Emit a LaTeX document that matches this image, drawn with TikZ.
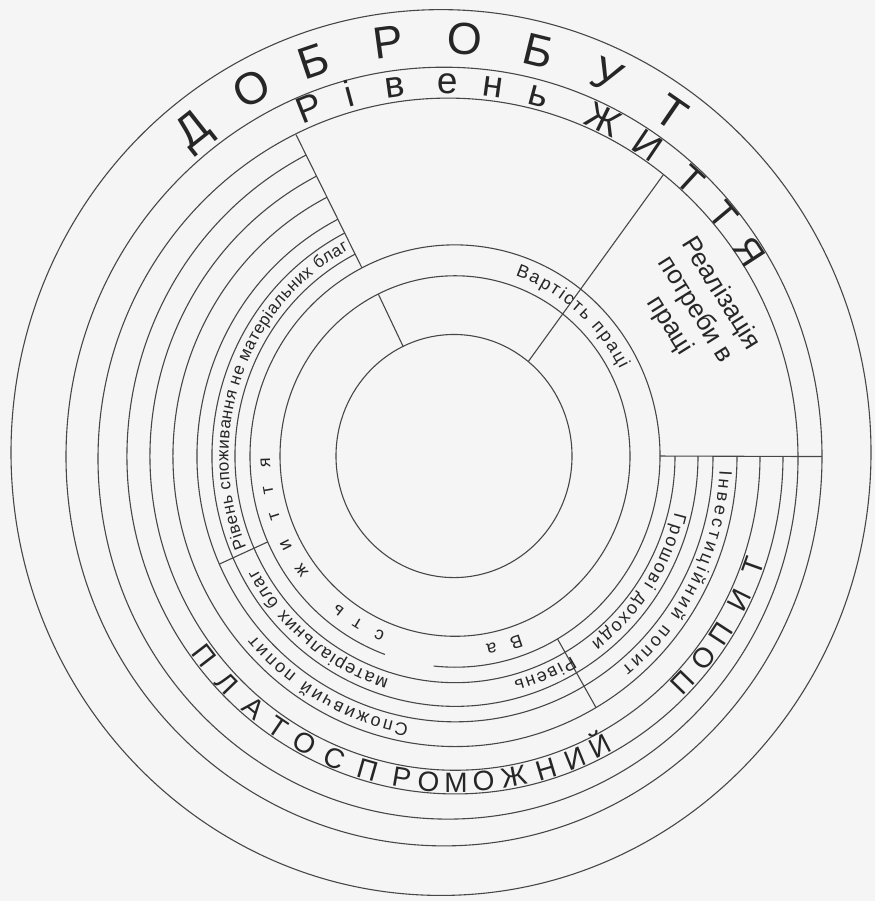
\documentclass[tikz,border=0pt]{standalone}
\usepackage{fontspec}
\setmainfont{Liberation Sans}
\usetikzlibrary{calc,decorations.text}
\newcommand\fsm{\fontsize{18}{20}\selectfont}
\newcommand\fsml{\fontsize{17}{19}\selectfont}
\newcommand\fbig{\fontsize{45}{48}\selectfont}
\newcommand\fmid{\fontsize{37}{40}\selectfont}
\newcommand\fcap{\fontsize{28}{32}\selectfont}
\newcommand\freal{\fontsize{26}{30}\selectfont}
\tikzset{
  ln/.style={draw=black!72, line width=1.1pt},
  arctext/.style={decorate, decoration={text along path, text align=fit to path, text color=black!85}},
  letter/.style={anchor=base, inner sep=0pt, text=black!85},
}
\begin{document}
\begin{tikzpicture}[x=1pt,y=1.03pt]
\fill[black!4] (0,0) rectangle (875,874.757);
\useasboundingbox (0,0) rectangle (875,874.757);
\coordinate (O) at (455,432);
\coordinate (C1) at (441,435.4);
\coordinate (C2) at (444,431.5);
\coordinate (C3) at (448,429.5);
\coordinate (CM) at (442.5,434);
\coordinate (CI) at (454,432);

% full circles
\draw[ln] (C1) circle[radius=430];
\draw[ln] (C2) circle[radius=378];
\draw[ln] (C3) circle[radius=350];
\draw[ln] (O) circle[radius=175];
\draw[ln] (CI) circle[radius=118];
% cost-of-living ring outer boundary (with gap)
\draw[ln] ($(O)+(-96:205)$) arc[start angle=-96, end angle=250, radius=205];
% partial rings
\foreach \r in {220,243,258,282,305,328}
  \draw[ln] ($(O)+(117:\r)$) arc[start angle=117, end angle=360, radius=\r];

% dividers
\coordinate (l1a) at ($(O)+(117:205)$);
\coordinate (l1b) at ($(O)+(117:350)$);
\draw[ln] (l1a) -- (l1b);
\coordinate (l2a) at ($(O)+(116:118)$);
\coordinate (l2b) at ($(O)+(116:175)$);
\draw[ln] (l2a) -- (l2b);
\coordinate (rla) at ($(CI)+(51:118)$);
\coordinate (rlb) at ($(C3)+(52:350)$);
\draw[ln] (rla) -- (rlb);
\coordinate (ha) at ($(O)+(0:205)$);
\coordinate (hb) at ($(C2)+(0:378)$);
\draw[ln] (ha) -- (hb);
\coordinate (da) at ($(O)+(-60:205)$);
\coordinate (db) at ($(O)+(-60:282)$);
\draw[ln] (da) -- (db);
\coordinate (ea) at ($(O)+(204:205)$);
\coordinate (eb) at ($(O)+(204:258)$);
\draw[ln] (ea) -- (eb);

% big letters
\foreach \l/\a [count=\i] in {Д/128.4,О/118.3,Б/108.7,Р/97.7,О/86.9,Б/76.2,У/65.9,Т/55.4}
  \node[letter, font=\fbig, rotate=\a-90] (dob\i) at ($(CM)+(\a:388)$) {\l};
\foreach \l/\a [count=\i] in {Р/111.7,і/105,в/97.8,е/89.5,н/82.3,ь/74.9,Ж/64,И/56,Т/47.5,Т/40,Я/33}
  \node[letter, font=\fmid, rotate=\a-90] (riv\i) at ($(C2)+(\a:352)$) {\l};
\foreach \l/\a [count=\i] in {П/-142.3,Л/-136,А/-129.5,Т/-124,О/-118.3,С/-112.3,П/-106,Р/-99.7,О/-94.8,М/-89.8,О/-84.8,Ж/-79.3,Н/-73.3,И/-67.8,Й/-62.8,П/-44,О/-38.2,П/-33,И/-26.2,Т/-19.7}
  \node[letter, font=\fcap, rotate=\a+90] (pla\i) at ($(O)+(\a:326.5)$) {\l};
\foreach \l/\a [count=\i] in {В/-71.3,а/-78.9,с/-113.5,т/-121,ь/-128,ж/-144,и/-153,т/-162,т/-170,я/-178}
  \node[letter, font=\fsm, rotate=\a-90] (vzh\i) at ($(O)+(\a:185)$) {\l};

% texts along arcs
\path[arctext, decoration={text={|\fsm|Вартість праці}}]
  ($(O)+(71:185)$) arc[start angle=71, end angle=27, radius=185];
\path[arctext, decoration={text={|\fsml|Рівень споживання не матеріальних благ}}]
  ($(O)+(203:226.5)$) arc[start angle=203, end angle=118, radius=226.5];
\path[arctext, decoration={text={|\fsm|Рівень}}]
  ($(O)+(-59:226.5)$) arc[start angle=-59, end angle=-75, radius=226.5];
\path[arctext, decoration={text={|\fsm|матеріальних благ}}]
  ($(O)+(-107:226.5)$) arc[start angle=-107, end angle=-151, radius=226.5];
\path[arctext, decoration={text={|\fsm|Грошові доходи}}]
  ($(O)+(-14:226.5)$) arc[start angle=-14, end angle=-53, radius=226.5];
\path[arctext, decoration={text={|\fsm|Інвестиційний попит}}]
  ($(O)+(-3:265)$) arc[start angle=-3, end angle=-51, radius=265];
\path[arctext, decoration={text={|\fsm|Споживчий попит}}]
  ($(O)+(-100:265)$) arc[start angle=-100, end angle=-139, radius=265];

\node[font=\freal, text=black!85, align=center, rotate=-58] (real) at (695,574)
  {Реалізація\\потреби в\\праці};
\end{tikzpicture}
\end{document}
